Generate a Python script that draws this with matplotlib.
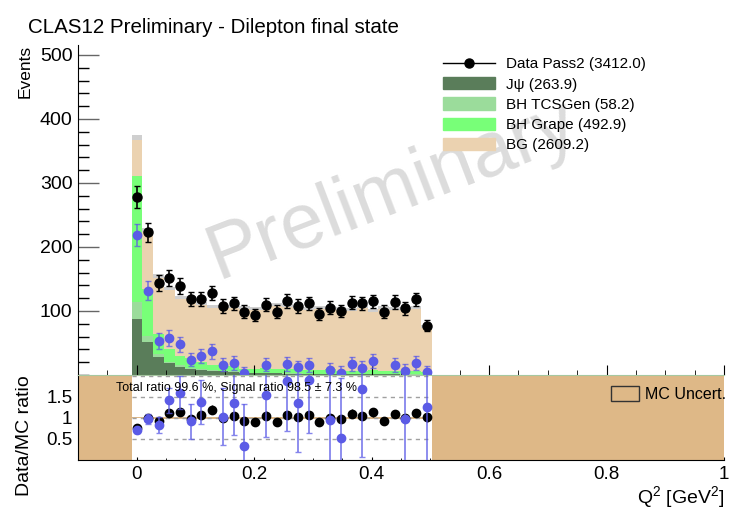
import numpy as np
import matplotlib
matplotlib.use('Agg')
import matplotlib.pyplot as plt
from matplotlib.lines import Line2D
from matplotlib.patches import Patch
from matplotlib.ticker import MultipleLocator

plt.rcParams['font.family'] = ['Liberation Sans', 'DejaVu Sans']
plt.rcParams['mathtext.fontset'] = 'custom'
plt.rcParams['mathtext.rm'] = 'Liberation Sans'
plt.rcParams['mathtext.it'] = 'Liberation Sans:italic'

# Q2 binning of the dilepton sample
q2_lo, q2_hi, nbins = -0.0085, 0.503, 28

data = np.array([278, 223, 144, 152, 139, 119, 119, 128, 108, 112, 99, 94, 110, 99,
                 116, 108, 112, 95, 105, 100, 113, 112, 115, 99, 114, 104, 118, 77], float)
jpsi = np.array([87.8, 52, 28.6, 18, 13, 10, 8.5, 7, 5.5, 4.5, 3.5, 3, 2.8, 2.5,
                 2.2, 2, 1.8, 1.6, 1.5, 1.4, 1.2, 1.1, 1, 0.9, 0.8, 0.7, 0.6, 0.4])
tcs = np.array([26, 9, 3.5, 2.5, 2, 1.6, 1.4, 1.2, 1.1, 1.0, 0.9, 0.8, 0.7, 0.7,
                0.6, 0.6, 0.5, 0.5, 0.5, 0.4, 0.4, 0.4, 0.4, 0.3, 0.3, 0.3, 0.3, 0.3])
grape = np.array([197.8, 74, 31.9, 20.5, 15, 14.7, 11.1, 7.8, 8.9, 8.5, 5.6, 5.7, 6.8, 6.3,
                  6.3, 6.3, 6.1, 6.4, 6.9, 5.2, 4.9, 5.0, 6.1, 5.3, 5.4, 5.5, 5.6, 3.3])
bg = np.array([59, 91, 91, 94, 91, 94.8, 90, 91, 92, 93, 95.7, 95, 94, 100,
               99, 96, 96, 96.7, 96.5, 96.3, 96, 101, 93.5, 99.5, 98, 97.7, 99.5, 72])
mc_err = np.array([4.0, 3.2, 2.8, 2.6, 2.5, 2.5, 2.4, 2.4, 2.4, 2.4, 2.4, 2.3, 2.3, 2.4,
                   2.4, 2.3, 2.3, 2.4, 2.4, 2.3, 2.3, 2.4, 2.3, 2.4, 2.4, 2.4, 2.4, 2.0])
sig_ratio_err = 7.3

c_jpsi = '#5a7d5a'
c_tcs = '#9bdc9b'
c_grape = '#78ff78'
c_bg = '#ebd2b0'
c_unc = '#deb887'
c_blue = '#5b5be6'

edges = np.linspace(q2_lo, q2_hi, nbins + 1)
centers = 0.5 * (edges[1:] + edges[:-1])
sig = jpsi + tcs + grape
mc = sig + bg
sub = data - bg

W, H = 743, 519
fig = plt.figure(figsize=(W / 100, H / 100), dpi=100)
ax = fig.add_axes([78 / W, 1 - 375 / H, 646 / W, 330 / H])
axr = fig.add_axes([78 / W, 1 - 460 / H, 646 / W, 85 / H])

# ---- upper pad: stacked MC + data
ax.hist([centers] * 4, bins=edges, weights=[jpsi, tcs, grape, bg], stacked=True,
        histtype='stepfilled', color=[c_jpsi, c_tcs, c_grape, c_bg], lw=0, zorder=1)
ax.stairs(mc + mc_err, edges, baseline=mc - mc_err, fill=True, color='#cfcfcf', lw=0, zorder=1.5)

ax.text(392 / W, 1 - 190 / H, 'Preliminary', transform=fig.transFigure, fontsize=56,
        color='#dcdcdc', rotation=21, ha='center', va='center', rotation_mode='anchor', zorder=0.5)

pos = sub > 0
ax.errorbar(centers[pos], sub[pos], yerr=np.sqrt(data[pos]), fmt='o', ms=6, color=c_blue,
            ecolor=(0.36, 0.36, 0.9, 0.75), elinewidth=1.2, capsize=2, zorder=3)
ax.errorbar(centers, data, yerr=np.sqrt(data), fmt='o', ms=6.5, color='k',
            elinewidth=1.2, capsize=2, zorder=4)

ax.set_xlim(-0.1, 1.0)
ax.set_ylim(0, 515.6)
ax.set_yticks([100, 200, 300, 400, 500])
ax.yaxis.set_minor_locator(MultipleLocator(20))
ax.xaxis.set_major_locator(MultipleLocator(0.2))
ax.xaxis.set_minor_locator(MultipleLocator(0.05))
ax.tick_params(axis='y', which='major', direction='in', length=15, width=1, color='#666',
               labelsize=14, pad=4)
ax.tick_params(axis='y', which='minor', direction='in', length=8, width=1, color='k')
ax.tick_params(axis='x', which='major', direction='in', length=7, labelbottom=False)
ax.tick_params(axis='x', which='minor', direction='in', length=3.5)
for s in ['top', 'right', 'bottom']:
    ax.spines[s].set_visible(False)
ax.patch.set_alpha(0)

handles = [Line2D([], [], color='k', marker='o', ms=6.5, lw=1),
           Patch(color=c_jpsi), Patch(color=c_tcs), Patch(color=c_grape), Patch(color=c_bg)]
labels = [f'Data Pass2 ({data.sum():.1f})', f'J\u03c8 ({jpsi.sum():.1f})',
          f'BH TCSGen ({tcs.sum():.1f})', f'BH Grape ({grape.sum():.1f})',
          f'BG ({bg.sum():.1f})']
ax.legend(handles, labels, loc='upper left', bbox_to_anchor=(443 / W, 1 - 57 / H),
          bbox_transform=fig.transFigure, frameon=False, fontsize=11, handlelength=3.4,
          handleheight=0.85, handletextpad=0.7, labelspacing=0.38, borderpad=0, borderaxespad=0)

# ---- lower pad: data / MC ratio
rel = mc_err / mc
axr.stairs(1 + rel, edges, baseline=1 - rel, fill=True, color=c_unc, lw=0, zorder=2)
axr.axvspan(-0.1, edges[0], color=c_unc, lw=0, zorder=2)
axr.axvspan(edges[-1], 1.0, color=c_unc, lw=0, zorder=2)
axr.hlines([0.5, 1.0, 1.5, 2.0], edges[0], edges[-1], colors='#a0a0a0', linestyles=(0, (3, 3)),
           lw=1, zorder=3, clip_on=False)

r_tot = data / mc
axr.errorbar(centers, r_tot, yerr=np.sqrt(data) / mc, fmt='o', ms=6, color='k',
             elinewidth=1, capsize=0, zorder=4)
r_sig = sub / sig
ok = (r_sig >= 0) & (r_sig <= 2)
axr.errorbar(centers[ok], r_sig[ok], yerr=np.sqrt(data[ok]) / sig[ok], fmt='o', ms=6,
             color=c_blue, ecolor=(0.36, 0.36, 0.9, 0.75), elinewidth=1.3, capsize=2, zorder=5)

axr.set_xlim(-0.1, 1.0)
axr.set_ylim(0, 2.02)
axr.set_yticks([0.5, 1, 1.5])
axr.set_yticklabels(['0.5', '1', '1.5'])
axr.yaxis.set_minor_locator(MultipleLocator(0.1))
axr.xaxis.set_major_locator(MultipleLocator(0.2))
axr.xaxis.set_minor_locator(MultipleLocator(0.05))
axr.set_xticks([0, 0.2, 0.4, 0.6, 0.8, 1.0])
axr.set_xticklabels(['0', '0.2', '0.4', '0.6', '0.8', '1'])
axr.tick_params(axis='y', which='major', direction='in', length=11, color='#444', labelsize=13.5, pad=4)
axr.tick_params(axis='y', which='minor', direction='in', length=6, color='#444')
axr.tick_params(axis='x', which='major', direction='in', length=2.5, labelsize=13.5, pad=4)
axr.tick_params(axis='x', which='minor', direction='in', length=1.2)
axr.spines['right'].set_visible(False)
axr.spines['top'].set_color('#a6c8a0')

tot_pct = 100 * data.sum() / mc.sum()
sig_pct = 100 * sub.sum() / sig.sum()
fig.text(116 / W, 1 - 388 / H,
         f'Total ratio {tot_pct:.1f} %, Signal ratio {sig_pct:.1f} \u00b1 {sig_ratio_err:.1f} %',
         fontsize=9, va='center', ha='left', zorder=6)

axr.legend([Patch(facecolor=c_unc, edgecolor='#333', lw=1)], ['MC Uncert.'], loc='upper right',
           bbox_to_anchor=(726 / W, 1 - 386 / H), bbox_transform=fig.transFigure, frameon=False,
           fontsize=11.5, handlelength=1.8, handleheight=1.1, handletextpad=0.35,
           borderpad=0, borderaxespad=0)

# ---- labels
fig.text(28 / W, 1 - 33 / H, 'CLAS12 Preliminary - Dilepton final state', fontsize=14.8,
         ha='left', va='baseline')
fig.text(25 / W, 1 - 45 / H, 'Events', rotation=90, fontsize=12.5, ha='center', va='top')
fig.text(25 / W, 1 - 375 / H, 'Data/MC ratio', rotation=90, fontsize=14, ha='center', va='top')
fig.text(725 / W, 1 - 503 / H, 'Q$^{2}$ [GeV$^{2}$]', fontsize=14, ha='right', va='baseline')

fig.savefig('out.png', dpi=100)
